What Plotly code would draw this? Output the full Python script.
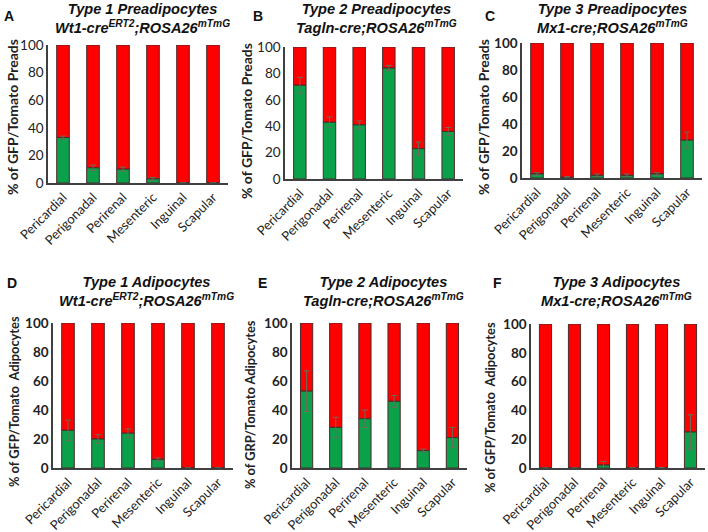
import plotly.graph_objects as go

W, H = 708, 532

depots = ["Pericardial", "Perigonadal", "Perirenal", "Mesenteric", "Inguinal", "Scapular"]

# GFP (green) percentages, error bars, and Tomato (red) percentages per panel
gfp_A = [33, 11, 10, 3, 0, 0]
err_A = [1, 2, 1.5, 1, 0, 0]
tom_A = [67, 89, 90, 97, 100, 100]

gfp_B = [71, 43, 41, 84, 23, 36]
err_B = [6, 4, 3, 2, 5, 3]
tom_B = [29, 57, 59, 16, 77, 64]

gfp_C = [3, 0.5, 2, 2, 3, 28]
err_C = [1, 0.5, 1, 1, 1, 6]
tom_C = [97, 99.5, 98, 98, 97, 72]

gfp_D = [26, 20, 24, 6, 0, 0]
err_D = [7, 3, 3, 1, 0, 0]
tom_D = [74, 80, 76, 94, 100, 100]

gfp_E = [53, 28, 34, 46, 12, 21]
err_E = [14, 7, 6, 4, 1, 7]
tom_E = [47, 72, 66, 54, 88, 79]

gfp_F = [0, 0, 2, 0, 0.3, 25]
err_F = [0, 0, 2.5, 0, 0, 12]
tom_F = [100, 100, 98, 100, 99.7, 75]

titles = [
    "Type 1 Preadipocytes<br>Wt1-cre<sup>ERT2</sup>;ROSA26<sup>mTmG</sup>",
    "Type 2 Preadipocytes<br>Tagln-cre;ROSA26<sup>mTmG</sup>",
    "Type 3 Preadipocytes<br>Mx1-cre;ROSA26<sup>mTmG</sup>",
    "Type 1 Adipocytes<br>Wt1-cre<sup>ERT2</sup>;ROSA26<sup>mTmG</sup>",
    "Type 2 Adipocytes<br>Tagln-cre;ROSA26<sup>mTmG</sup>",
    "Type 3 Adipocytes<br>Mx1-cre;ROSA26<sup>mTmG</sup>",
]
letters = ["A", "B", "C", "D", "E", "F"]
ytitles = [
    "% of GFP/Tomato Preads",
    "% of GFP/Tomato Preads",
    "% of GFP/Tomato Preads",
    "% of GFP/Tomato  Adipocytes",
    "% of GRP/Tomato Adipocytes",
    "% of GFP/Tomato  Adipocytes",
]

panels = [
    (gfp_A, err_A, tom_A), (gfp_B, err_B, tom_B), (gfp_C, err_C, tom_C),
    (gfp_D, err_D, tom_D), (gfp_E, err_E, tom_E), (gfp_F, err_F, tom_F),
]

# layout geometry in pixels: (x0, x1, ytop, ybottom)
boxes = [
    (48, 228, 45, 183), (285, 463, 47, 179), (522, 702, 43, 178),
    (53, 233, 323, 468), (292, 467, 323, 468), (531, 705, 324, 468),
]
title_pos = [(142, 19, 14.6), (376, 19, 14.6), (612, 19, 14.6),
             (146, 291, 14.6), (383, 291, 14.6), (616, 291, 14.6)]
letter_pos = [(9, 16), (258, 16), (490, 16), (12, 283), (262, 283), (497, 283)]
ytitle_pos = [(12, 117, 14), (246, 121, 14), (483, 117, 14),
              (14, 402, 12.8), (250, 405, 12.8), (490, 408, 12.8)]
bold_ticks = [False, False, True, True, True, True]

GREEN = "#0BA14B"
RED = "#FF0000"
EDGE = "#4a2a2a"
FONT = "Lato, 'Open Sans', sans-serif"

fig = go.Figure()
annotations = []
layout_axes = {}

for i, ((g, e, t), (x0, x1, yt, yb)) in enumerate(zip(panels, boxes)):
    n = "" if i == 0 else str(i + 1)
    xa, ya = "x" + n, "y" + n
    fig.add_trace(go.Bar(
        x=depots, y=t, base=g, xaxis=xa, yaxis=ya,
        marker=dict(color=RED, line=dict(color=EDGE, width=1)),
        width=0.42, showlegend=False, hoverinfo="skip"))
    fig.add_trace(go.Bar(
        x=depots, y=g, xaxis=xa, yaxis=ya,
        marker=dict(color=GREEN, line=dict(color=EDGE, width=1)),
        error_y=dict(type="data", array=e, color="#6b6b5b", thickness=1, width=3),
        width=0.42, showlegend=False, hoverinfo="skip"))

    tickfont = dict(family=FONT, size=13.5, color="#222")
    if bold_ticks[i]:
        tickfont["weight"] = "bold"
    layout_axes["xaxis" + n] = dict(
        domain=[x0 / W, x1 / W], anchor=ya, range=[-0.5, 5.5], automargin=False,
        tickangle=-45, showline=True, linecolor="#404040", linewidth=1.5,
        ticks="", showgrid=False, zeroline=False,
        tickfont=dict(family=FONT, size=13, color="#222"))
    layout_axes["yaxis" + n] = dict(
        domain=[1 - yb / H, 1 - yt / H], anchor=xa, range=[0, 100], automargin=False,
        tickvals=[0, 20, 40, 60, 80, 100], showline=True, linecolor="#404040",
        linewidth=1.5, ticks="", showgrid=False, zeroline=False, tickfont=tickfont)

    tx, ty, ts = title_pos[i]
    annotations.append(dict(
        text="<b><i>" + titles[i] + "</i></b>", x=tx / W, y=1 - ty / H,
        xref="paper", yref="paper", showarrow=False, xanchor="center", yanchor="middle",
        font=dict(family="Liberation Sans, Arial, sans-serif", size=ts, color="#111")))
    lx, ly = letter_pos[i]
    annotations.append(dict(
        text="<b>" + letters[i] + "</b>", x=lx / W, y=1 - ly / H,
        xref="paper", yref="paper", showarrow=False, xanchor="center", yanchor="middle",
        font=dict(family="Liberation Sans, Arial, sans-serif", size=14, color="#111")))
    yx, yy, ys = ytitle_pos[i]
    annotations.append(dict(
        text="<b>" + ytitles[i] + "</b>", x=yx / W, y=1 - yy / H, textangle=-90,
        xref="paper", yref="paper", showarrow=False, xanchor="center", yanchor="middle",
        font=dict(family=FONT, size=ys, color="#222")))

fig.update_layout(
    template="none",
    width=W, height=H, margin=dict(l=0, r=0, t=0, b=0),
    paper_bgcolor="white", plot_bgcolor="white",
    barmode="overlay", annotations=annotations, **layout_axes)

fig.write_html("out.html", config={"displayModeBar": False},
               post_script="document.body.style.margin='0';")
